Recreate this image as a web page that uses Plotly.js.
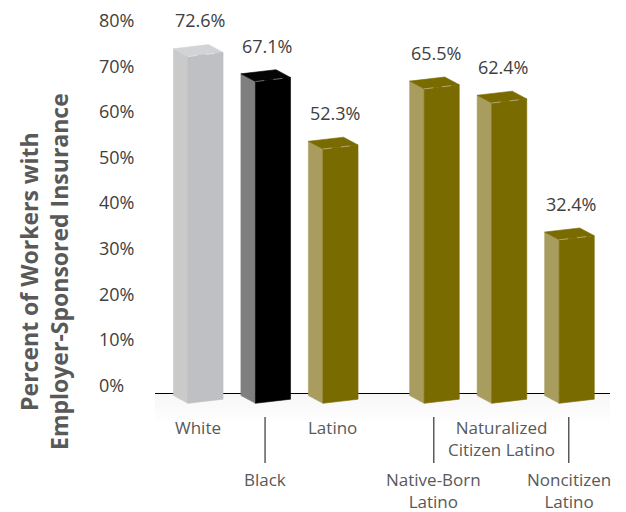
<!DOCTYPE html>
<html><head><meta charset="utf-8">
<script src="https://cdn.plot.ly/plotly-3.0.1.min.js"></script>
<style>html,body{margin:0;padding:0;background:#fff}</style>
</head><body><div id="chart" style="width:626px;height:512px"></div>
<script>
// ---- data ----
const categories = ['White','Black','Latino','Native-Born Latino','Naturalized Citizen Latino','Noncitizen Latino'];
const categoryLabels = ['White','Black','Latino','Native-Born<br>Latino','Naturalized<br>Citizen Latino','Noncitizen<br>Latino'];
const values = [72.6, 67.1, 52.3, 65.5, 62.4, 32.4];
const valueLabels = ['72.6%','67.1%','52.3%','65.5%','62.4%','32.4%'];
const tickValues = [0,10,20,30,40,50,60,70,80];
const tickLabels = ['0%','10%','20%','30%','40%','50%','60%','70%','80%'];
const groups = [0,0,0,1,1,1]; // race groups, then Latino subgroups

// ---- layout / style constants ----
const W = 626, H = 512;
const M = {l:95, r:16, t:7, b:90};
const PW = W - M.l - M.r, PH = H - M.t - M.b;
const pxX = px => (px - M.l) / PW;
const pxY = py => (H - M.b - py) / PH;
const groupGap = 0.5;
const pos = categories.map((c,i) => i + groups[i]*groupGap);
const hw = 0.26;        // half width of front face
const dx = -0.215;      // depth offset x (units)
const dy = 1.7;         // depth offset y (percent)
const tilt = 0.9;       // perspective tilt across the front face
const frontBase = -3.9;
const floorY = -1.75;
const styles = {
  white: {front:'#BFC0C3', side:'#CACACB', top:'#D2D3D5', edge:'#E4E4E6'},
  black: {front:'#000000', side:'#7F7F80', top:'#050505', edge:'#6A6A6A'},
  olive: {front:'#7A6B00', side:'#A89C5E', top:'#7A6B00', edge:'#B2A870'}
};
const barStyle = ['white','black','olive','olive','olive','olive'];

const traces = [];
values.forEach((v,i) => {
  const p = pos[i], s = styles[barStyle[i]];
  const xl = p - hw, xr = p + hw;
  const ytl = v - tilt/2, ytr = v + tilt/2;
  const ybl = frontBase, ybr = frontBase + tilt;
  const poly = (xs, ys, color) => traces.push({
    type:'scatter', mode:'lines', x:xs, y:ys, fill:'toself', fillcolor:color,
    line:{width:0.6, color:color}, hoverinfo:'skip', showlegend:false
  });
  poly([xl, xl+dx, xl+dx, xl, xl], [ybl, ybl+dy, ytl+dy, ytl, ybl], s.side);
  poly([xl, xr, xr+dx, xl+dx, xl], [ytl, ytr, ytr+dy, ytl+dy, ytl], s.top);
  poly([xl, xr, xr, xl, xl], [ybl, ybr, ytr, ytl, ybl], s.front);
  traces.push({type:'scatter', mode:'lines', x:[xl, xr], y:[ytl, ytr],
    line:{width:1, color:s.edge, dash:'dash'}, hoverinfo:'skip', showlegend:false});
});

const font = '"Open Sans", "DejaVu Sans", sans-serif';
const annotations = [];
values.forEach((v,i) => {
  annotations.push({xref:'x', yref:'y', x:pos[i] + dx/2 + 0.02, y:v, yanchor:'bottom', xanchor:'center',
    yshift:20, text:valueLabels[i], showarrow:false, font:{family:font, size:18, color:'#404040'}});
  const lower = i % 2 === 1;
  annotations.push({xref:'x', yref:'paper', x:pos[i] + dx/2 - 0.01, y:pxY(lower ? 466 : 414),
    yanchor:'top', xanchor:'center', text:categoryLabels[i], showarrow:false, align:'center',
    font:{family:font, size:17, color:'#595959'}});
});
annotations.push({xref:'paper', yref:'paper', x:pxX(44), y:pxY(272), xanchor:'center', yanchor:'middle',
  textangle:-90, showarrow:false, align:'center',
  text:'<b>Percent of Workers with<br>Employer-Sponsored Insurance</b>',
  font:{family:font, size:23, color:'#595959'}});

const shapes = [];
for (let k = 1; k <= 8; k++) {
  shapes.push({type:'rect', xref:'paper', yref:'y', x0:pxX(155), x1:1, y0:floorY, y1:floorY - k*0.8,
    fillcolor:'rgba(0,0,0,0.005)', line:{width:0}, layer:'below'});
}
shapes.push({type:'line', xref:'paper', yref:'y', x0:pxX(155), x1:1, y0:floorY, y1:floorY,
  line:{color:'#000000', width:1.2}, layer:'below'});
values.forEach((v,i) => {
  if (i % 2 === 1) shapes.push({type:'line', xref:'x', yref:'paper', x0:pos[i] + dx/2 - 0.01, x1:pos[i] + dx/2 - 0.01,
    y0:pxY(417), y1:pxY(463), line:{color:'#333333', width:1.2}});
});

const layout = {
  width:W, height:H, margin:M, paper_bgcolor:'#fff', plot_bgcolor:'rgba(0,0,0,0)',
  showlegend:false, hovermode:false,
  xaxis:{domain:[pxX(155), 1], range:[-0.748, 5.993], visible:false, fixedrange:true},
  yaxis:{range:[-8, 83], anchor:'free', position:0, ticklabelposition:'inside',
    tickvals:tickValues, ticktext:tickLabels, showgrid:false, zeroline:false, showline:false,
    ticks:'', tickfont:{family:font, size:18, color:'#404040'}, fixedrange:true},
  annotations, shapes
};
Plotly.newPlot('chart', traces, layout, {staticPlot:true, displayModeBar:false});
</script></body></html>
